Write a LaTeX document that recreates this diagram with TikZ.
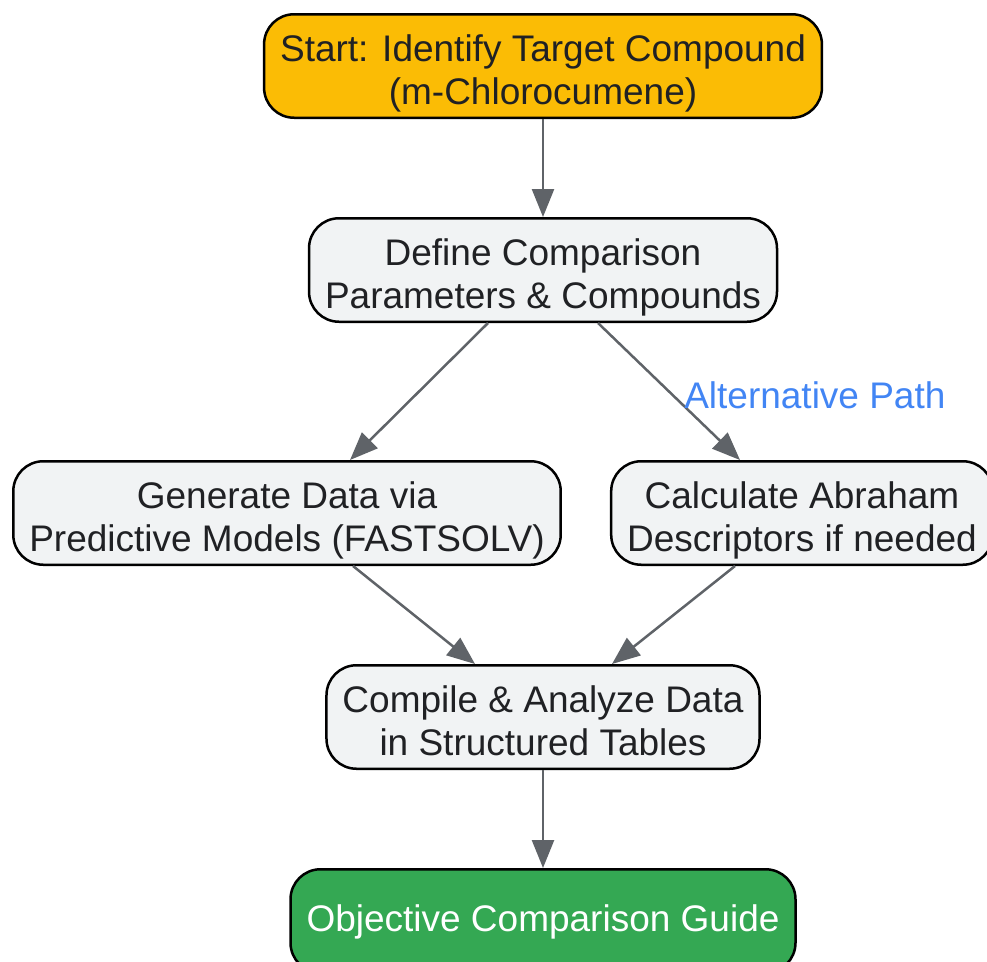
\documentclass[tikz,border=0pt]{standalone}
\usepackage{fontspec}
\setmainfont{Liberation Sans}
\usepackage{tikz}
\usetikzlibrary{arrows.meta}
\usetikzlibrary{positioning}

\definecolor{boxgray}{HTML}{F1F3F4}
\definecolor{startorange}{HTML}{FBBC05}
\definecolor{endgreen}{HTML}{34A853}
\definecolor{linegray}{HTML}{5F6368}
\definecolor{labelblue}{HTML}{4285F4}
\definecolor{textdark}{HTML}{202124}

\begin{document}
\begin{tikzpicture}[
    x=1pt, y=1pt,
    stepbox/.style={draw=black, line width=2.5pt, rectangle, rounded corners=30pt,
        fill=boxgray, text=textdark, minimum height=103.5pt, inner xsep=16pt,
        align=center, font=\fontsize{37}{43}\selectfont,
        text height=76pt, text depth=0pt},
    oneline/.style={text height=27pt, text depth=7pt},
    flow/.style={-{Triangle[length=28pt, width=22pt]}, line width=2.5pt, draw=linegray},
    node distance=98pt
]
    \useasboundingbox (0,0) rectangle (987,-961);

    % Step 1: Start
    \node (start) [stepbox, fill=startorange] at (543,-66) {Start: Identify Target Compound\\(m-Chlorocumene)};

    % Step 2: Define parameters
    \node (define) [stepbox, below=of start] {Define Comparison\\Parameters \& Compounds};

    % Step 3: Two branches
    \node (generate) [stepbox, below=137pt of define, xshift=-256pt] {Generate Data via\\Predictive Models (FASTSOLV)};
    \node (calculate) [stepbox, below=137pt of define, xshift=259pt] {Calculate Abraham\\Descriptors if needed};

    % Step 4: Compile
    \node (compile) [stepbox, below=of generate, xshift=256pt] {Compile \& Analyze Data\\in Structured Tables};

    % Step 5: Result
    \node (guide) [stepbox, oneline, fill=endgreen, text=white, below=of compile] {Objective Comparison Guide};

    % Connect arrows
    \draw[flow] (start) -- (define);
    \draw[flow] ([xshift=-55pt]define.south) -- ([xshift=63pt]generate.north);
    \draw[flow] ([xshift=55pt]define.south) -- ([xshift=-62pt]calculate.north)
        node[midway, anchor=west, xshift=14pt, yshift=-4pt, inner sep=0pt, text=labelblue,
             font=\fontsize{37}{43}\selectfont] (altlabel) {Alternative Path};
    \draw[flow] ([xshift=66pt]generate.south) -- ([xshift=-68pt]compile.north);
    \draw[flow] ([xshift=-67pt]calculate.south) -- ([xshift=69pt]compile.north);
    \draw[flow] (compile) -- (guide);

\end{tikzpicture}
\end{document}
